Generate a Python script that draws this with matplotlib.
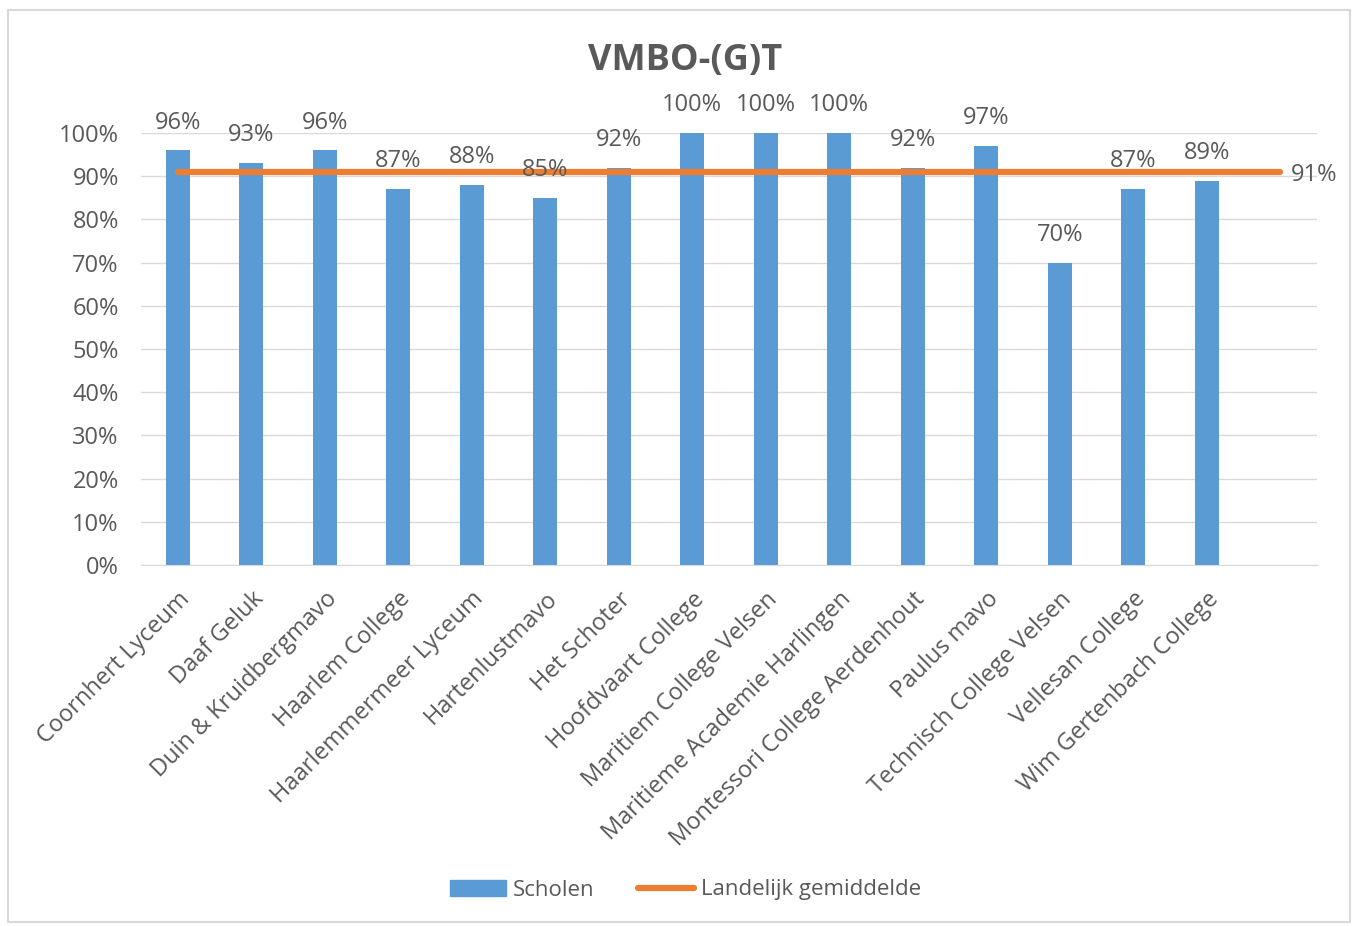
import numpy as np
import matplotlib.pyplot as plt
from matplotlib.patches import Rectangle, Patch
from matplotlib.lines import Line2D

scholen = ['Coornhert Lyceum', 'Daaf Geluk', 'Duin & Kruidbergmavo', 'Haarlem College',
           'Haarlemmermeer Lyceum', 'Hartenlustmavo', 'Het Schoter', 'Hoofdvaart College',
           'Maritiem College Velsen', 'Maritieme Academie Harlingen',
           'Montessori College Aerdenhout', 'Paulus mavo', 'Technisch College Velsen',
           'Vellesan College', 'Wim Gertenbach College', '']
scores = [0.96, 0.93, 0.96, 0.87, 0.88, 0.85, 0.92, 1.00, 1.00, 1.00, 0.92, 0.97, 0.70, 0.87, 0.89]
landelijk = [0.91] * 16

blue = '#5B9BD5'
orange = '#ED7D31'
txt = '#595959'
fs = 17

plt.rcParams['font.family'] = ['Open Sans', 'DejaVu Sans']

fig = plt.figure(figsize=(13.71, 9.26), dpi=100)
ax = fig.add_axes([141/1371, 1-565/926, (1317-141)/1371, (565-133)/926])

x = np.arange(len(scores))
ax.bar(x, scores, width=0.33, color=blue, zorder=2)
xl = np.arange(len(landelijk))
ax.plot(xl, landelijk, color=orange, lw=4.5, solid_capstyle='round', zorder=3)

for xi, v in zip(x, scores):
    ax.annotate(f'{v:.0%}', (xi, v), xytext=(0, 20), textcoords='offset points',
                ha='center', va='center', fontsize=fs, color=txt)
ax.annotate(f'{landelijk[-1]:.0%}', (xl[-1], landelijk[-1]), xytext=(8, -2),
            textcoords='offset points', ha='left', va='center', fontsize=fs, color=txt)

ax.set_xlim(-0.5, len(scholen) - 0.5)
ax.set_ylim(0, 1)
ax.set_yticks(np.arange(0, 1.01, 0.1))
ax.set_yticklabels([f'{t:.0%}' for t in np.arange(0, 1.01, 0.1)])
ax.set_xticks(np.arange(len(scholen)))
ax.set_xticklabels(scholen, rotation=45, ha='right', va='top', rotation_mode='anchor')
ax.tick_params(axis='both', length=0, colors=txt, labelsize=fs)
ax.tick_params(axis='y', pad=16)
ax.tick_params(axis='x', pad=16)
ax.grid(axis='y', color='#D9D9D9', lw=1, zorder=0)
for s in ['top', 'right', 'left']:
    ax.spines[s].set_visible(False)
ax.spines['bottom'].set_color('#D9D9D9')

fig.text(0.5, 1-61/926, 'VMBO-(G)T', ha='center', va='center', fontsize=26,
         fontweight='bold', color=txt)

handles = [Patch(color=blue, label='Scholen'),
           Line2D([0], [0], color=orange, lw=4.5, solid_capstyle='round', label='Landelijk gemiddelde')]
fig.legend(handles=handles, loc='center', bbox_to_anchor=(0.5, 1-890/926), ncol=2,
           frameon=False, fontsize=16, labelcolor=txt, handlelength=2.5, columnspacing=2.0,
           handletextpad=0.3)

fig.patches.append(Rectangle((8/1371, 1-922/926), (1350-8)/1371, (922-10)/926,
                             transform=fig.transFigure, fill=False, ec='#D9D9D9', lw=1.5))

fig.savefig('out.png', dpi=100)
